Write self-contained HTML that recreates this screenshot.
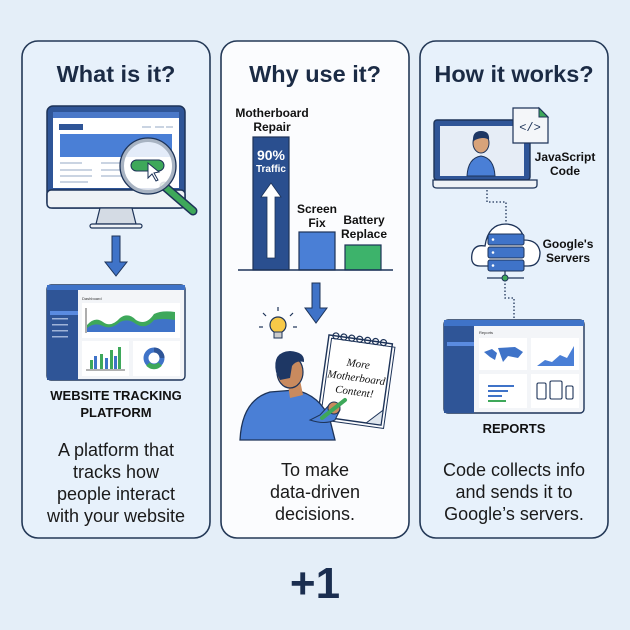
<!DOCTYPE html>
<html><head><meta charset="utf-8"><style>
html,body{margin:0;padding:0;background:#e4eef8;}
svg{display:block;font-family:"Liberation Sans",sans-serif;}
</style></head><body>
<svg width="630" height="630" viewBox="0 0 630 630" xmlns="http://www.w3.org/2000/svg">
<rect width="630" height="630" fill="#e4eef8"/>
<!-- panels -->
<rect x="22" y="41" width="188" height="497" rx="16" fill="#e7f1fb" stroke="#243957" stroke-width="1.6"/>
<rect x="221" y="41" width="188" height="497" rx="16" fill="#fbfcfe" stroke="#243957" stroke-width="1.6"/>
<rect x="420" y="41" width="188" height="497" rx="16" fill="#e7f1fb" stroke="#243957" stroke-width="1.6"/>
<g font-weight="bold" font-size="23.5" fill="#1b2b45" text-anchor="middle">
<text x="116" y="82">What is it?</text>
<text x="315" y="82">Why use it?</text>
<text x="514" y="82">How it works?</text>
</g>

<!-- LEFT: monitor -->
<rect x="47" y="106" width="138" height="102" rx="6" fill="#2f5597" stroke="#1d3358" stroke-width="1.5"/>
<rect x="47" y="190" width="138" height="18" rx="4" fill="#eef2f6" stroke="#1d3358" stroke-width="1.5"/>
<rect x="53" y="112" width="126" height="76" fill="#ffffff"/>
<rect x="53" y="112" width="126" height="6" fill="#4a78c8"/>
<rect x="59" y="124" width="24" height="6" fill="#2f5597"/>
<g stroke="#b9c6d8" stroke-width="1.5"><line x1="142" y1="127" x2="151" y2="127"/><line x1="155" y1="127" x2="164" y2="127"/><line x1="166" y1="127" x2="173" y2="127"/>
<line x1="60" y1="163" x2="82" y2="163"/><line x1="60" y1="170" x2="92" y2="170"/><line x1="60" y1="176" x2="92" y2="176"/><line x1="60" y1="182" x2="88" y2="182"/>
<line x1="101" y1="163" x2="120" y2="163"/><line x1="101" y1="170" x2="124" y2="170"/><line x1="101" y1="176" x2="124" y2="176"/></g>
<rect x="60" y="134" width="112" height="23" fill="#4a7fd6"/>
<path d="M100 208 L132 208 L136 224 L96 224 Z" fill="#d4dbe4" stroke="#1d3358" stroke-width="1.2"/>
<rect x="90" y="224" width="52" height="4" rx="2" fill="#eef2f6" stroke="#1d3358" stroke-width="1.2"/>
<line x1="164" y1="186" x2="193" y2="211" stroke="#1d3358" stroke-width="9" stroke-linecap="round"/>
<line x1="164" y1="186" x2="193" y2="211" stroke="#3ea85a" stroke-width="6" stroke-linecap="round"/>
<circle cx="148" cy="166" r="26" fill="#ffffff" fill-opacity="0.85" stroke="#a8b3c2" stroke-width="4"/>
<circle cx="148" cy="166" r="28" fill="none" stroke="#1d3358" stroke-width="1.3"/>
<rect x="131" y="160" width="33" height="11" rx="5.5" fill="#3ea85a" stroke="#1d3358" stroke-width="1"/>
<path d="M148 163 L148 178 L152 174 L156 181 L158 180 L154 173 L159 172 Z" fill="#fff" stroke="#1d3358" stroke-width="1"/>
<!-- arrow -->
<path d="M112 236 L120 236 L120 262 L127 262 L116 276 L105 262 L112 262 Z" fill="#3f73c8" stroke="#1d3358" stroke-width="1"/>
<!-- dashboard -->
<rect x="47" y="285" width="138" height="95" rx="4" fill="#f3f5f8" stroke="#1d3358" stroke-width="1.4"/>
<rect x="47" y="285" width="138" height="5" fill="#3f73c8"/>
<rect x="47" y="290" width="31" height="90" fill="#2f5597"/>
<rect x="50" y="311" width="28" height="4" fill="#5a8be0"/>
<g fill="#9fb4d8"><rect x="52" y="318" width="16" height="1.5"/><rect x="52" y="324" width="16" height="1.5"/><rect x="52" y="330" width="16" height="1.5"/><rect x="52" y="336" width="16" height="1.5"/></g>
<text x="82" y="300" font-size="4" fill="#333">Dashboard</text>
<rect x="82" y="303" width="98" height="35" fill="#fff"/>
<path d="M87 332 L87 325 Q95 316 103 322 Q111 328 120 318 Q128 312 136 320 Q146 326 154 314 Q162 310 175 312 L175 332 Z" fill="#3ea85a"/>
<path d="M87 332 L87 328 Q95 322 103 326 Q111 330 120 322 Q128 318 136 324 Q146 330 154 320 Q162 318 175 320 L175 332 Z" fill="#3f73c8"/>
<line x1="86" y1="308" x2="86" y2="333" stroke="#333" stroke-width="0.8"/>
<rect x="82" y="341" width="47" height="35" fill="#fff"/>
<rect x="133" y="341" width="47" height="35" fill="#fff"/>
<g fill="#3ea85a"><rect x="90" y="360" width="3" height="9"/><rect x="100" y="354" width="3" height="15"/><rect x="110" y="350" width="3" height="19"/><rect x="118" y="347" width="3" height="22"/></g>
<g fill="#3f73c8"><rect x="94" y="356" width="3" height="13"/><rect x="105" y="358" width="3" height="11"/><rect x="114" y="356" width="3" height="13"/></g>
<line x1="86" y1="370" x2="125" y2="370" stroke="#333" stroke-width="0.8"/>
<circle cx="154" cy="358" r="8" fill="none" stroke="#3f73c8" stroke-width="5"/>
<path d="M154 350 A8 8 0 0 1 162 358" fill="none" stroke="#2f5597" stroke-width="5"/>
<path d="M148 364 A8 8 0 0 0 160 364" fill="none" stroke="#3ea85a" stroke-width="5"/>
<g font-weight="bold" font-size="13" fill="#111" text-anchor="middle">
<text x="116" y="400">WEBSITE TRACKING</text>
<text x="116" y="417">PLATFORM</text></g>
<g font-size="18" fill="#1a1a1a" text-anchor="middle">
<text x="116" y="456">A platform that</text>
<text x="116" y="478">tracks how</text>
<text x="116" y="500">people interact</text>
<text x="116" y="522">with your website</text></g>

<!-- MIDDLE -->
<g font-weight="bold" font-size="12" fill="#111" text-anchor="middle">
<text x="272" y="117">Motherboard</text><text x="272" y="131">Repair</text>
<text x="317" y="213">Screen</text><text x="317" y="227">Fix</text>
<text x="364" y="224">Battery</text><text x="364" y="238">Replace</text></g>
<rect x="253" y="137" width="36" height="133" fill="#2a4f8f" stroke="#1d3358" stroke-width="1.2"/>
<text x="271" y="160" font-weight="bold" font-size="14" fill="#fff" text-anchor="middle">90%</text>
<text x="271" y="172" font-weight="bold" font-size="10" fill="#fff" text-anchor="middle">Traffic</text>
<path d="M267 258 L275 258 L275 197 L281 197 L271 183 L261 197 L267 197 Z" fill="#fff" stroke="#1d3358" stroke-width="0.8"/>
<rect x="299" y="232" width="36" height="38" fill="#4a7fd6" stroke="#1d3358" stroke-width="1.2"/>
<rect x="345" y="245" width="36" height="25" fill="#3db36b" stroke="#1d3358" stroke-width="1.2"/>
<line x1="238" y1="270" x2="393" y2="270" stroke="#1d3358" stroke-width="1.6"/>
<path d="M312 283 L320 283 L320 308 L327 308 L316 323 L305 308 L312 308 Z" fill="#3f73c8" stroke="#1d3358" stroke-width="1"/>
<!-- bulb -->
<circle cx="278" cy="325" r="8" fill="#f7c948" stroke="#1d3358" stroke-width="1.2"/>
<rect x="274" y="332" width="8" height="6" fill="#ccc" stroke="#1d3358" stroke-width="1"/>
<g stroke="#1d3358" stroke-width="1.2"><line x1="278" y1="311" x2="278" y2="307"/><line x1="266" y1="316" x2="263" y2="313"/><line x1="290" y1="316" x2="293" y2="313"/><line x1="263" y1="327" x2="259" y2="327"/><line x1="293" y1="327" x2="297" y2="327"/></g>
<!-- notepad -->
<g transform="rotate(8 355 380)">
<rect x="323" y="339" width="64" height="82" fill="#fff" stroke="#1d3358" stroke-width="1.4"/>
<rect x="326" y="342" width="64" height="82" fill="none" stroke="#1d3358" stroke-width="1"/>
<g fill="none" stroke="#1d3358" stroke-width="1.2"><circle cx="330" cy="339" r="3"/><circle cx="338" cy="339" r="3"/><circle cx="346" cy="339" r="3"/><circle cx="354" cy="339" r="3"/><circle cx="362" cy="339" r="3"/><circle cx="370" cy="339" r="3"/><circle cx="378" cy="339" r="3"/></g>
<g font-family="'Liberation Serif',serif" font-style="italic" font-size="11" fill="#111" text-anchor="middle">
<text x="356" y="367">More</text><text x="356" y="381">Motherboard</text><text x="356" y="395">Content!</text></g>
<path d="M372 421 L387 406 L387 421 Z" fill="#dfe6ee" stroke="#1d3358" stroke-width="1"/>
</g>
<!-- person -->
<path d="M240 440 Q242 400 270 392 L295 390 Q320 395 330 420 L335 440 Z" fill="#4a7fd6" stroke="#1d3358" stroke-width="1.3"/>
<path d="M300 380 L303 395 L290 398 L288 385 Z" fill="#c98a5e"/>
<ellipse cx="290" cy="372" rx="13" ry="16" fill="#c98a5e" stroke="#1d3358" stroke-width="1.2"/>
<path d="M276 372 Q272 352 290 351 Q305 352 304 362 Q296 360 292 366 L290 378 L280 380 Z" fill="#1e3764"/>
<path d="M310 420 Q325 425 335 420 L340 410 Q338 402 330 404 L320 415 Z" fill="#4a7fd6" stroke="#1d3358" stroke-width="1"/>
<circle cx="334" cy="408" r="6" fill="#c98a5e" stroke="#1d3358" stroke-width="1"/>
<line x1="322" y1="418" x2="345" y2="400" stroke="#3ea85a" stroke-width="4" stroke-linecap="round"/>
<g font-size="18" fill="#1a1a1a" text-anchor="middle">
<text x="315" y="476">To make</text><text x="315" y="498">data-driven</text><text x="315" y="520">decisions.</text></g>

<!-- RIGHT -->
<rect x="434" y="120" width="96" height="60" rx="3" fill="#2f5597" stroke="#1d3358" stroke-width="1.4"/>
<rect x="440" y="126" width="84" height="50" fill="#e6edf6"/>
<path d="M433 180 L537 180 L537 185 Q537 188 533 188 L437 188 Q433 188 433 185 Z" fill="#eef2f6" stroke="#1d3358" stroke-width="1.3"/>
<path d="M467 176 Q468 158 481 156 Q494 158 495 176 Z" fill="#4a7fd6" stroke="#1d3358" stroke-width="1"/>
<ellipse cx="481" cy="143" rx="8" ry="10" fill="#d8a37a" stroke="#1d3358" stroke-width="1"/>
<path d="M473 142 Q472 131 481 131 Q490 131 489 140 Q484 136 475 140 Z" fill="#1e3764"/>
<path d="M513 108 L539 108 L548 117 L548 143 L513 143 Z" fill="#f4f6f9" stroke="#1d3358" stroke-width="1.2"/>
<path d="M539 108 L539 117 L548 117 Z" fill="#3ea85a" stroke="#1d3358" stroke-width="1"/>
<text x="530" y="131" font-family="'Liberation Mono',monospace" font-size="12" fill="#1d3358" text-anchor="middle">&lt;/&gt;</text>
<g font-weight="bold" font-size="12" fill="#111" text-anchor="middle">
<text x="565" y="161">JavaScript</text><text x="565" y="175">Code</text>
<text x="568" y="248">Google's</text><text x="568" y="262">Servers</text>
<text x="514" y="433" font-size="13">REPORTS</text></g>
<path d="M487 190 L487 202 L506 202 L506 226" fill="none" stroke="#1d3358" stroke-width="1.3" stroke-dasharray="1.5 2"/>
<path d="M505 280 L505 298 L514 298 L514 320" fill="none" stroke="#1d3358" stroke-width="1.3" stroke-dasharray="1.5 2"/>
<path d="M480 266 Q470 266 472 254 Q474 244 485 246 Q488 224 506 224 Q522 225 524 240 Q538 240 540 252 Q540 266 528 266 Z" fill="#fff" stroke="#1d3358" stroke-width="1.3"/>
<g fill="#3f73c8" stroke="#1d3358" stroke-width="1"><rect x="488" y="234" width="36" height="11" rx="2"/><rect x="488" y="247" width="36" height="11" rx="2"/><rect x="488" y="260" width="36" height="11" rx="2"/></g>
<g fill="#fff"><circle cx="493" cy="239.5" r="1.3"/><circle cx="493" cy="252.5" r="1.3"/><circle cx="493" cy="265.5" r="1.3"/></g>
<line x1="487" y1="278" x2="524" y2="278" stroke="#1d3358" stroke-width="1.2"/>
<line x1="505" y1="271" x2="505" y2="278" stroke="#1d3358" stroke-width="1.2"/>
<circle cx="505" cy="278" r="3" fill="#3ea85a" stroke="#1d3358"/>
<!-- reports dashboard -->
<rect x="444" y="320" width="140" height="93" rx="4" fill="#f3f5f8" stroke="#1d3358" stroke-width="1.4"/>
<rect x="444" y="320" width="140" height="6" fill="#3f73c8"/>
<rect x="444" y="326" width="30" height="87" fill="#2f5597"/>
<rect x="447" y="342" width="27" height="4" fill="#5a8be0"/>
<text x="479" y="334" font-size="4" fill="#333">Reports</text>
<rect x="479" y="338" width="48" height="32" fill="#fff"/><rect x="531" y="338" width="48" height="32" fill="#fff"/>
<rect x="479" y="374" width="48" height="34" fill="#fff"/><rect x="531" y="374" width="48" height="34" fill="#fff"/>
<path d="M484 352 L492 349 L497 353 L495 360 L490 357 Z M498 348 L515 347 L523 352 L518 358 L508 356 L503 362 Z" fill="#3f73c8"/>
<path d="M537 366 L545 360 L552 362 L560 355 L567 358 L574 346 L574 366 Z" fill="#4a7fd6"/>
<g fill="#3f73c8"><rect x="488" y="385" width="26" height="2"/><rect x="488" y="390" width="20" height="2"/><rect x="488" y="395" width="14" height="2"/></g>
<g fill="#3ea85a"><rect x="488" y="400" width="18" height="2"/></g>
<g fill="none" stroke="#1d3358" stroke-width="1.1"><rect x="537" y="383" width="9" height="16" rx="1.5"/><rect x="550" y="381" width="12" height="18" rx="1.5"/><rect x="566" y="386" width="7" height="13" rx="1.5"/></g>
<g font-size="18" fill="#1a1a1a" text-anchor="middle">
<text x="514" y="476">Code collects info</text><text x="514" y="498">and sends it to</text><text x="514" y="520">Google’s servers.</text></g>

<text x="315" y="598" font-weight="bold" font-size="44" fill="#1b2e50" text-anchor="middle">+1</text>
</svg>
</body></html>
